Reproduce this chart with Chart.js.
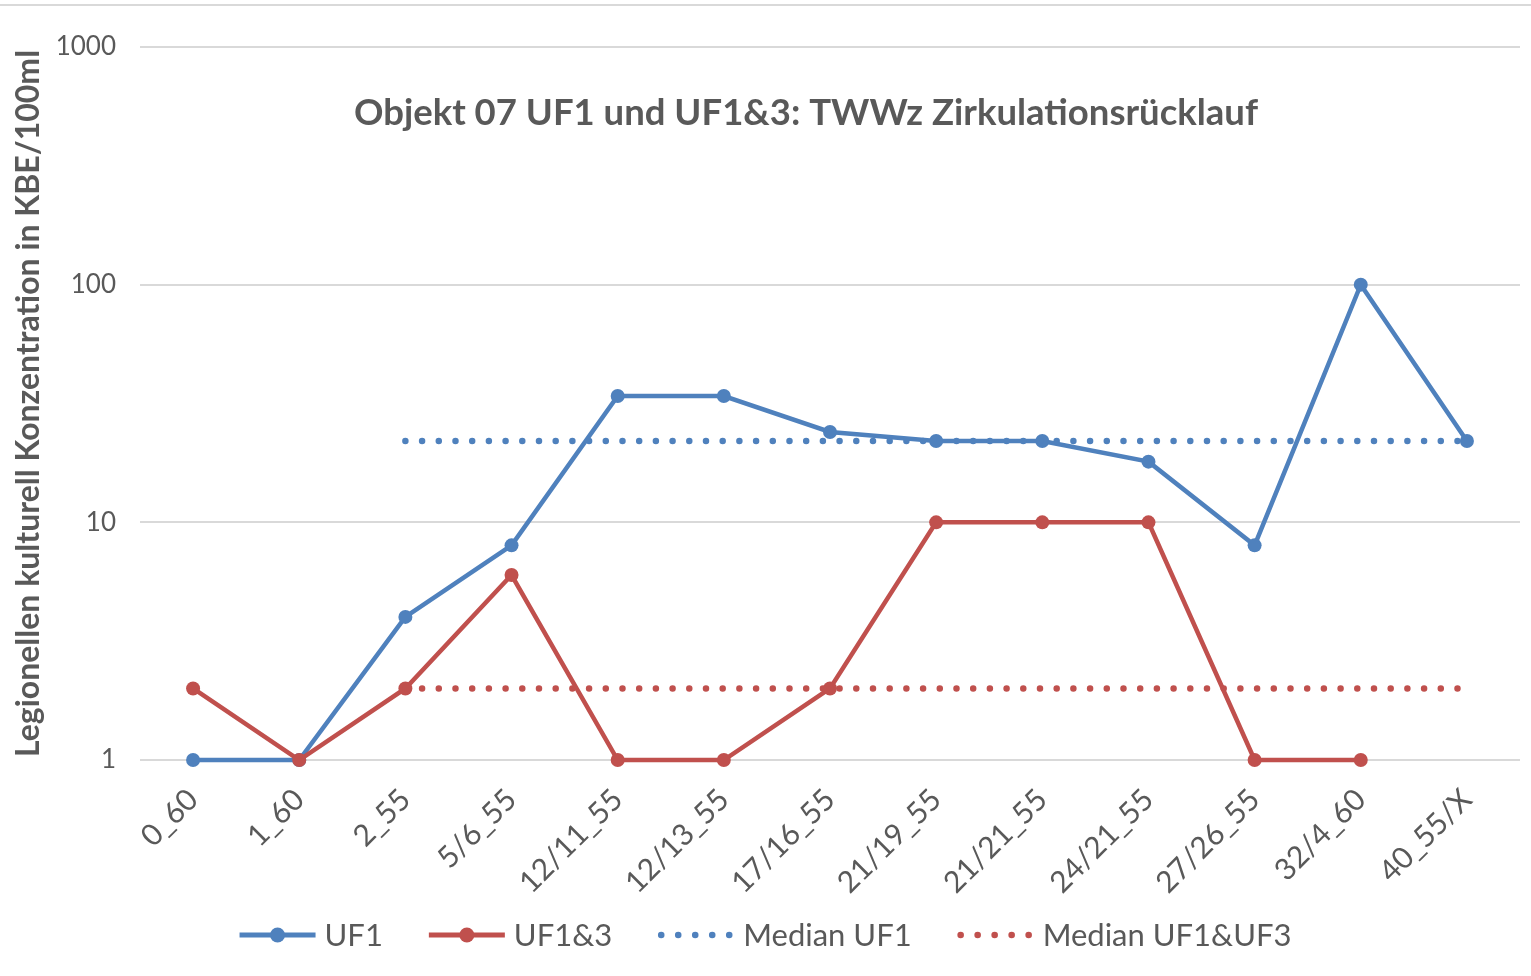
<!DOCTYPE html>
<html>
<head>
<meta charset="utf-8">
<script src="https://cdn.jsdelivr.net/npm/chart.js@4/dist/chart.umd.min.js"></script>
<style>
  html, body { margin: 0; padding: 0; background: #fff; }
  #wrap { width: 1531px; height: 976px; position: relative; }
</style>
</head>
<body>
<div id="wrap"><canvas id="chart" width="1531" height="976"></canvas></div>
<script>
// categories (sample point / temperature)
const labels = ['0_60', '1_60', '2_55', '5/6_55', '12/11_55', '12/13_55', '17/16_55',
  '21/19_55', '21/21_55', '24/21_55', '27/26_55', '32/4_60', '40_55/X'];

// KBE/100ml
const uf1 = [1, 1, 4, 8, 34, 34, 24, 22, 22, 18, 8, 100, 22];
const uf13 = [2, 1, 2, 6, 1, 1, 2, 10, 10, 10, 1, 1, null];
const medianUf1 = [null, null, 22, 22, 22, 22, 22, 22, 22, 22, 22, 22, 22];
const medianUf13 = [null, null, 2, 2, 2, 2, 2, 2, 2, 2, 2, 2, 2];

const yTicks = [1, 10, 100, 1000];

const BLUE = '#4F81BD';
const RED = '#C0504D';
const GREY = '#595959';
const FONT = 'Lato, "Open Sans", sans-serif';

const titleText = 'Objekt 07 UF1 und UF1&3: TWWz Zirkulationsrücklauf';
const yTitle = 'Legionellen kulturell Konzentration in KBE/100ml';

// title sits inside the plot, plus legend at the bottom and the frame line on top
const decor = {
  id: 'decor',
  afterDraw(chart) {
    const ctx = chart.ctx;
    ctx.save();
    // frame line at top
    ctx.strokeStyle = '#d9d9d9';
    ctx.lineWidth = 2;
    ctx.beginPath();
    ctx.moveTo(0, 5);
    ctx.lineTo(chart.width, 5);
    ctx.stroke();

    // title
    ctx.fillStyle = GREY;
    ctx.font = 'bold 36.5px ' + FONT;
    ctx.textAlign = 'center';
    ctx.textBaseline = 'middle';
    ctx.fillText(titleText, 806, 113);

    // legend
    ctx.font = '31px ' + FONT;
    ctx.textAlign = 'left';
    const items = chart.data.datasets.map(ds => ({
      text: ds.label, color: ds.borderColor, dotted: !!ds.borderDash
    }));
    const symW = 76, gap = 9, between = 46;
    let total = 0;
    items.forEach((it, i) => {
      it.w = ctx.measureText(it.text).width;
      total += symW + gap + it.w + (i < items.length - 1 ? between : 0);
    });
    let x = chart.width / 2 - total / 2;
    const y = 935;
    items.forEach(it => {
      ctx.strokeStyle = it.color;
      ctx.fillStyle = it.color;
      if (it.dotted) {
        for (let k = 0; k < 5; k++) {
          ctx.beginPath();
          ctx.arc(x + 3 + k * 17, y, 3.3, 0, Math.PI * 2);
          ctx.fill();
        }
      } else {
        ctx.lineWidth = 5;
        ctx.beginPath();
        ctx.moveTo(x, y);
        ctx.lineTo(x + symW, y);
        ctx.stroke();
        ctx.beginPath();
        ctx.arc(x + symW / 2, y, 7.5, 0, Math.PI * 2);
        ctx.fill();
      }
      x += symW + gap;
      ctx.fillStyle = GREY;
      ctx.fillText(it.text, x, y + 1);
      x += it.w + between;
    });
    ctx.restore();
  }
};

new Chart(document.getElementById('chart'), {
  type: 'line',
  data: {
    labels: labels,
    datasets: [
      {
        label: 'UF1', data: uf1, order: 4,
        borderColor: BLUE, backgroundColor: BLUE, borderWidth: 4.5,
        pointRadius: 7, pointBorderWidth: 0, pointBackgroundColor: BLUE,
        clip: false
      },
      {
        label: 'UF1&3', data: uf13, order: 3,
        borderColor: RED, backgroundColor: RED, borderWidth: 4.5,
        pointRadius: 7, pointBorderWidth: 0, pointBackgroundColor: RED,
        clip: false
      },
      {
        label: 'Median UF1', data: medianUf1, order: 2,
        borderColor: BLUE, borderWidth: 6.5, borderDash: [0, 16.7],
        borderCapStyle: 'round', pointRadius: 0, clip: false
      },
      {
        label: 'Median UF1&UF3', data: medianUf13, order: 1,
        borderColor: RED, borderWidth: 6.5, borderDash: [0, 16.7],
        borderCapStyle: 'round', pointRadius: 0, clip: false
      }
    ]
  },
  options: {
    responsive: false,
    animation: false,
    layout: { padding: { left: 0, right: 11, top: 47, bottom: 0 } },
    plugins: {
      legend: { display: false },
      title: { display: false },
      tooltip: { enabled: false }
    },
    scales: {
      x: {
        offset: true,
        grid: { display: false },
        border: { display: false },
        ticks: {
          color: GREY, font: { family: FONT, size: 30 },
          minRotation: 45, maxRotation: 45, padding: 14
        },
        afterFit(scale) { scale.height = 216; }
      },
      y: {
        type: 'logarithmic',
        min: 1, max: 1000,
        afterBuildTicks(scale) { scale.ticks = yTicks.map(v => ({ value: v })); },
        grid: { color: '#d9d9d9', lineWidth: 2, drawTicks: false },
        border: { display: false },
        ticks: {
          color: GREY, font: { family: FONT, size: 26 }, padding: 24,
          callback: v => String(v)
        },
        title: {
          display: true, text: yTitle, color: GREY,
          font: { family: FONT, size: 32, weight: 'bold' },
          padding: { top: 9, bottom: 0 }
        },
        afterFit(scale) { scale.width = 140; }
      }
    }
  },
  plugins: [decor]
});
</script>
</body>
</html>
